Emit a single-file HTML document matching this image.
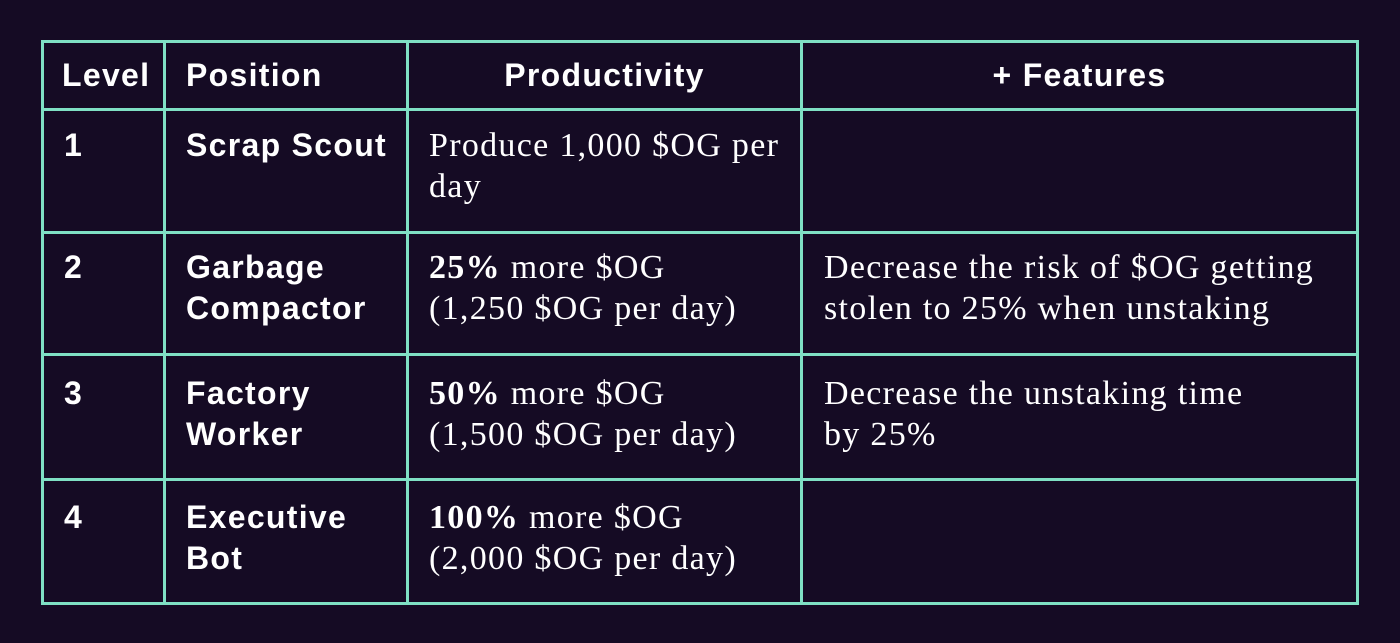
<!DOCTYPE html><html><head><style>
body{margin:0;width:1400px;height:643px;background:#150b24;position:relative;overflow:hidden;color:#fff}
.l{position:absolute;background:#7fe0c4}
.t{position:absolute;font-family:"Liberation Sans",sans-serif;font-weight:bold;font-size:32px;letter-spacing:1.3px;line-height:41px;white-space:nowrap}
.s{position:absolute;font-family:"Liberation Serif",serif;font-size:34px;letter-spacing:1.3px;line-height:41px;white-space:nowrap}
</style></head><body>
<div class="l" style="left:41px;top:40px;width:1318px;height:3px"></div>
<div class="l" style="left:41px;top:108px;width:1318px;height:3px"></div>
<div class="l" style="left:41px;top:231px;width:1318px;height:3px"></div>
<div class="l" style="left:41px;top:353px;width:1318px;height:3px"></div>
<div class="l" style="left:41px;top:478px;width:1318px;height:3px"></div>
<div class="l" style="left:41px;top:602px;width:1318px;height:3px"></div>
<div class="l" style="left:41px;top:40px;width:3px;height:565px"></div>
<div class="l" style="left:163px;top:40px;width:3px;height:565px"></div>
<div class="l" style="left:406px;top:40px;width:3px;height:565px"></div>
<div class="l" style="left:800px;top:40px;width:3px;height:565px"></div>
<div class="l" style="left:1356px;top:40px;width:3px;height:565px"></div>

<div class="t" style="left:62px;top:55px">Level</div>
<div class="t" style="left:186px;top:55px">Position</div>
<div class="t" style="left:409px;width:391px;text-align:center;top:55px">Productivity</div>
<div class="t" style="left:803px;width:553px;text-align:center;top:55px">+ Features</div>

<div class="t" style="left:64px;top:125px">1</div>
<div class="t" style="left:186px;top:125px">Scrap Scout</div>
<div class="s" style="left:429px;top:125px">Produce 1,000 $OG per<br>day</div>

<div class="t" style="left:64px;top:247px">2</div>
<div class="t" style="left:186px;top:247px">Garbage<br>Compactor</div>
<div class="s" style="left:429px;top:247px"><b>25%</b> more $OG<br>(1,250 $OG per day)</div>
<div class="s" style="left:824px;top:247px">Decrease the risk of $OG getting<br>stolen to 25% when unstaking</div>

<div class="t" style="left:64px;top:373px">3</div>
<div class="t" style="left:186px;top:373px">Factory<br>Worker</div>
<div class="s" style="left:429px;top:373px"><b>50%</b> more $OG<br>(1,500 $OG per day)</div>
<div class="s" style="left:824px;top:373px">Decrease the unstaking time<br>by 25%</div>

<div class="t" style="left:64px;top:497px">4</div>
<div class="t" style="left:186px;top:497px">Executive<br>Bot</div>
<div class="s" style="left:429px;top:497px"><b>100%</b> more $OG<br>(2,000 $OG per day)</div>
</body></html>
